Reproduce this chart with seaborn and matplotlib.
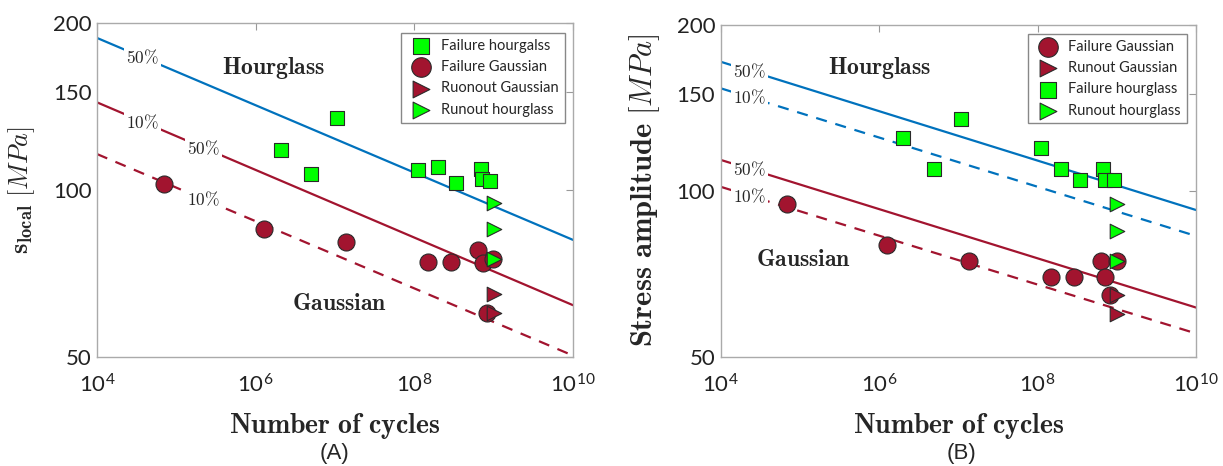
import numpy as np
import matplotlib
matplotlib.use("Agg")
import matplotlib.pyplot as plt
from matplotlib.ticker import NullLocator
import seaborn as sns

# S-N data
# (A) local stress
N_hg_fail_A = [2.1e6, 5.0e6, 1.07e7, 1.12e8, 2.0e8, 3.4e8, 6.9e8, 7.2e8, 9.1e8]
S_hg_fail_A = [118, 107, 135, 108.7, 110, 102.8, 108.9, 104.8, 104]
N_ga_fail_A = [6.9e4, 1.27e6, 1.38e7, 1.5e8, 2.9e8, 6.3e8, 7.3e8, 9.8e8, 8.3e8]
S_ga_fail_A = [102.6, 85.2, 80.7, 74.3, 74.3, 78.0, 74.0, 75.2, 60.0]
N_ga_run_A = [1e9, 1e9]
S_ga_run_A = [64.9, 60.0]
N_hg_run_A = [1e9, 1e9, 1e9]
S_hg_run_A = [94.8, 84.9, 75.0]

# (B) stress amplitude
N_ga_fail_B = [6.8e4, 1.24e6, 1.36e7, 1.47e8, 2.9e8, 6.3e8, 7.2e8, 1.0e9, 8.1e8]
S_ga_fail_B = [94.6, 79.7, 74.7, 69.7, 69.7, 74.7, 69.7, 74.7, 64.7]
N_ga_run_B = [1e9, 1e9]
S_ga_run_B = [64.7, 59.7]
N_hg_fail_B = [2.0e6, 4.9e6, 1.07e7, 1.1e8, 2.0e8, 3.4e8, 6.8e8, 7.1e8, 9.1e8]
S_hg_fail_B = [124.5, 109.6, 134.9, 119.7, 109.6, 104.8, 109.6, 104.8, 104.8]
N_hg_run_B = [1e9, 1e9, 1e9]
S_hg_run_B = [94.6, 84.7, 74.7]

# fitted curves (straight in log-log), values at 1e4 and 1e10
line_N = [1e4, 1e10]
hg50_A = [188, 81.3]
ga50_A = [143.9, 62.0]
ga10_A = [116.1, 50.3]
hg50_B = [171.5, 92.3]
hg10_B = [153.5, 82.8]
ga50_B = [113.8, 61.4]
ga10_B = [101.7, 55.1]

x_ticks = [1e4, 1e6, 1e8, 1e10]
x_ticklabels = [r"$10^{4}$", r"$10^{6}$", r"$10^{8}$", r"$10^{10}$"]
y_ticks = [50, 100, 150, 200]

RED = "#A2142F"
BLUE = "#0072BD"
GREEN = "#00FF00"
EDGE = "#2a2a2a"

sns.set_style("white")
plt.rcParams["font.family"] = ["Lato", "DejaVu Sans"]
plt.rcParams["mathtext.fontset"] = "custom"
plt.rcParams["mathtext.rm"] = "Lato"
plt.rcParams["mathtext.it"] = "Lato:italic"
plt.rcParams["mathtext.bf"] = "Lato:bold"


def on_line(n, ys):
    return 10 ** np.interp(np.log10(n), np.log10(line_N), np.log10(ys))


def style_axes(ax):
    ax.set_xscale("log")
    ax.set_yscale("log")
    ax.set_xlim(1e4, 1e10)
    ax.set_ylim(50, 200)
    ax.set_xticks(x_ticks)
    ax.set_xticklabels(x_ticklabels)
    ax.set_yticks(y_ticks)
    ax.set_yticklabels([str(t) for t in y_ticks])
    ax.xaxis.set_minor_locator(NullLocator())
    ax.yaxis.set_minor_locator(NullLocator())
    ax.tick_params(direction="in", length=5, top=True, right=True,
                   color="#999999", labelcolor="#222222", labelsize=16)
    ax.tick_params(axis="x", pad=12)
    ax.tick_params(axis="y", pad=4)
    for s in ax.spines.values():
        s.set_color("#aaaaaa")
        s.set_linewidth(1.0)


def fit_line(ax, ys, color, dashed=False):
    ls = (0, (5, 4)) if dashed else "-"
    sns.lineplot(x=line_N, y=ys, ax=ax, color=color, linewidth=1.6,
                 linestyle=ls, zorder=2)


def pct(ax, n, ys, txt):
    ax.text(n, on_line(n, ys), txt, math_fontfamily="cm", fontsize=12.5,
            ha="center", va="center", zorder=2.5,
            bbox=dict(facecolor="white", edgecolor="none", pad=1.5))


def pts(ax, n, s, marker, color, size, label):
    sns.scatterplot(x=n, y=s, ax=ax, marker=marker, color=color, s=size,
                    edgecolor=EDGE, linewidth=0.8, label=label, zorder=3)


def region(ax, n, s, txt):
    ax.text(n, s, r"$\mathbf{%s}$" % txt, math_fontfamily="cm",
            fontsize=17, ha="center", va="center")


def add_legend(ax, anchor):
    ax.legend(loc="upper right", bbox_to_anchor=anchor, borderaxespad=0,
              fancybox=False, edgecolor="#888888", framealpha=1,
              fontsize=10.5, handletextpad=0.4, labelspacing=0.5,
              borderpad=0.4, markerscale=1.15)


fig = plt.figure(figsize=(12.23, 4.66), dpi=100)
axA = fig.add_axes([0.0793, 0.2339, 0.3892, 0.7167])
axB = fig.add_axes([0.5893, 0.2346, 0.3886, 0.7118])
for ax in (axA, axB):
    style_axes(ax)

# ---- panel A
fit_line(axA, hg50_A, BLUE)
fit_line(axA, ga50_A, RED)
fit_line(axA, ga10_A, RED, dashed=True)
pct(axA, 3.7e4, hg50_A, r"$50\%$")
pct(axA, 3.7e4, ga50_A, r"$10\%$")
pct(axA, 2.2e5, ga50_A, r"$50\%$")
pct(axA, 2.2e5, ga10_A, r"$10\%$")
pts(axA, N_hg_fail_A, S_hg_fail_A, "s", GREEN, 95, "Failure hourgalss")
pts(axA, N_ga_fail_A, S_ga_fail_A, "o", RED, 150, "Failure Gaussian")
pts(axA, N_ga_run_A, S_ga_run_A, ">", RED, 110, "Ruonout Gaussian")
pts(axA, N_hg_run_A, S_hg_run_A, ">", GREEN, 110, "Runout hourglass")
region(axA, 1.66e6, 166, "Hourglass")
region(axA, 1.15e7, 62.5, "Gaussian")
axA.set_xlabel(r"$\mathbf{Number\ of\ cycles}$", math_fontfamily="cm",
               fontsize=20)
axA.xaxis.set_label_coords(0.5, -0.162)
axA.set_ylabel(r"$\mathbf{s}_{\mathbf{local}}\ [MPa]$", math_fontfamily="cm",
               fontsize=19)
axA.yaxis.set_label_coords(-0.125, 0.5)
add_legend(axA, (0.983, 0.970))

# ---- panel B
fit_line(axB, hg50_B, BLUE)
fit_line(axB, hg10_B, BLUE, dashed=True)
fit_line(axB, ga50_B, RED)
fit_line(axB, ga10_B, RED, dashed=True)
for ys, t in [(hg50_B, r"$50\%$"), (hg10_B, r"$10\%$"),
              (ga50_B, r"$50\%$"), (ga10_B, r"$10\%$")]:
    pct(axB, 2.3e4, ys, t)
pts(axB, N_ga_fail_B, S_ga_fail_B, "o", RED, 150, "Failure Gaussian")
pts(axB, N_ga_run_B, S_ga_run_B, ">", RED, 110, "Runout Gaussian")
pts(axB, N_hg_fail_B, S_hg_fail_B, "s", GREEN, 95, "Failure hourglass")
pts(axB, N_hg_run_B, S_hg_run_B, ">", GREEN, 110, "Runout hourglass")
region(axB, 1.0e6, 167, "Hourglass")
region(axB, 1.1e5, 75.2, "Gaussian")
axB.set_xlabel(r"$\mathbf{Number\ of\ cycles}$", math_fontfamily="cm",
               fontsize=20)
axB.xaxis.set_label_coords(0.5, -0.164)
axB.set_ylabel(r"$\mathbf{Stress\ amplitude}\ [MPa]$", math_fontfamily="cm",
               fontsize=22)
axB.yaxis.set_label_coords(-0.124, 0.5)
add_legend(axB, (0.981, 0.973))

fig.text(334 / 1223, 1 - 453 / 466, "(A)", ha="center", va="center",
         fontsize=16, family="Liberation Sans")
fig.text(962 / 1223, 1 - 453 / 466, "(B)", ha="center", va="center",
         fontsize=16, family="Liberation Sans")

fig.savefig("out.png", dpi=100)
